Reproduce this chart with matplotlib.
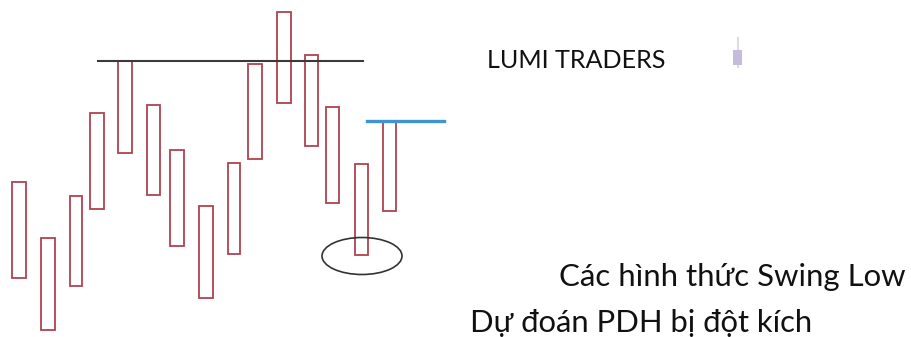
import matplotlib
matplotlib.use('agg')
import matplotlib.pyplot as plt
from matplotlib.patches import Ellipse

# bars, pixel scale
left = [12, 41, 70, 90, 118, 147, 170, 199, 228, 248, 277, 305, 326, 355, 383]
right = [26, 55, 82, 104, 132, 160, 184, 213, 240, 262, 291, 318, 339, 368, 396]
top = [182, 238, 196, 113, 61, 105, 150, 206, 163, 64, 12, 55, 107, 164, 121]
bottom = [278, 330, 286, 209, 153, 195, 246, 298, 254, 159, 103, 146, 203, 255, 211]

black_level = [98, 363, 61]
blue_level = [367, 444, 121]
circle = [362, 256, 80, 37]
labels = ['LUMI TRADERS', 'Các hình thức Swing Low', 'Dự đoán PDH bị đột kích']

plt.rcParams['font.family'] = ['Lato', 'DejaVu Sans']

fig = plt.figure(figsize=(9.11, 3.37), dpi=100)
ax = fig.add_axes([0, 0, 1, 1])
ax.set_xlim(0, 911)
ax.set_ylim(337, 0)
ax.axis('off')

for i in range(len(left)):
	ax.bar(left[i], bottom[i] - top[i], width=right[i] - left[i], bottom=top[i], align='edge',
		facecolor='none', edgecolor='#b0424f', linewidth=1.3)

ax.plot(black_level[:2], [black_level[2]] * 2, color='#3a3a3a', linewidth=1.5)
ax.plot(blue_level[:2], [blue_level[2]] * 2, color='#3f95d3', linewidth=2.4)
ax.add_patch(Ellipse(circle[:2], circle[2], circle[3], facecolor='none', edgecolor='#333333', linewidth=1.2))

# small purple candle next to the name
ax.plot([737.5, 737.5], [38, 67], color='#dcdcdc', linewidth=1.5, zorder=1)
ax.bar(733, 15, width=9, bottom=50, align='edge', color='#c5bbdc', zorder=2)

ax.text(487, 67.5, labels[0], fontsize=18.1, color='#111111')
ax.text(559, 286, labels[1], fontsize=22.4, color='#111111')
ax.text(470, 332, labels[2], fontsize=22.3, color='#111111')

plt.savefig('out.png', dpi=100)
